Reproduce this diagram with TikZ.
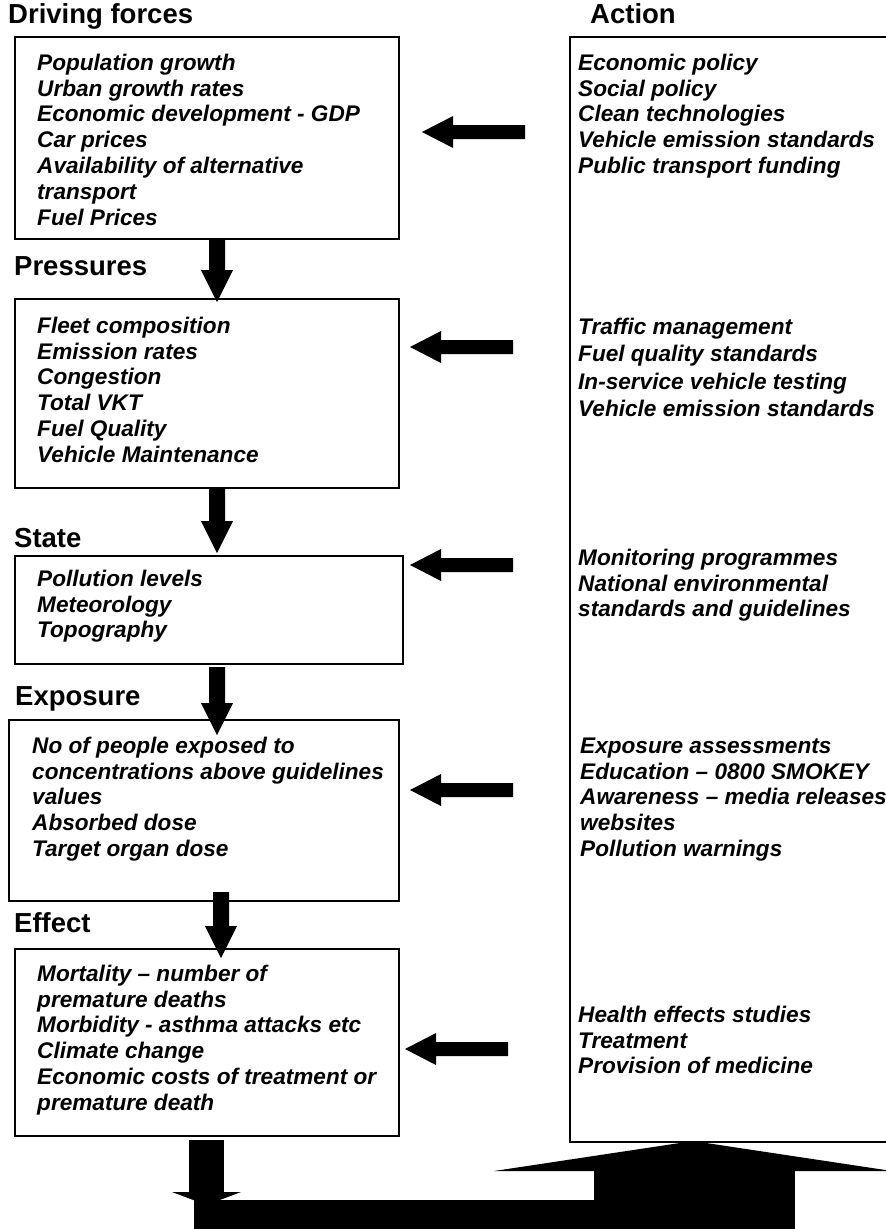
\documentclass[tikz,border=0pt]{standalone}
\usepackage{fontspec}
\setmainfont{Liberation Sans}
\usetikzlibrary{calc}
\newcommand{\titlefont}{\bfseries\fontsize{27.5}{30}\selectfont}
\newcommand{\itemfont}{\bfseries\itshape\fontsize{22.6}{25.8}\selectfont}
\newcommand{\itemfontwide}{\bfseries\itshape\fontsize{22.6}{27.5}\selectfont}
\newcommand{\vblock}[2]{\fill ($(#1)+(-8,0)$) -- ($(#2)+(-8,-32)$) -- ($(#2)+(-16,-32)$) -- (#2) -- ($(#2)+(16,-32)$) -- ($(#2)+(8,-32)$) -- ($(#1)+(8,0)$) -- cycle;}
\begin{document}
\begin{tikzpicture}[x=1pt,y=-1pt,
  box/.style={draw, line width=1.5pt, anchor=north west, inner sep=0pt},
  ttl/.style={anchor=base west, inner sep=0pt, font=\titlefont},
  items/.style={anchor=north west, inner sep=0pt, align=left, font=\itemfont},
  larrow/.pic={\fill (0,-7) -- (-72,-7) -- (-72,-16) -- (-103,0) -- (-72,16) -- (-72,7) -- (0,7) -- cycle;}
]
\useasboundingbox (0,0) rectangle (886,1229);
\clip (0,0) rectangle (886,1229);

% boxes
\node[box, minimum width=384pt, minimum height=202pt] (df) at (14,36) {};
\node[box, minimum width=384pt, minimum height=189pt] (pr) at (14,298) {};
\node[box, minimum width=388pt, minimum height=108pt] (st) at (14,555) {};
\node[box, minimum width=390pt, minimum height=181pt] (ex) at (8,719) {};
\node[box, minimum width=384pt, minimum height=187pt] (ef) at (14,948) {};
\node[box, minimum width=360pt, minimum height=1105pt] (act) at (569,36) {};

% titles
\node[ttl] (tdf) at (8,23) {Driving forces};
\node[ttl] (tact) at (590,23) {Action};
\node[ttl] (tpr) at (14,275) {Pressures};
\node[ttl] (tst) at (14,547) {State};
\node[ttl] (tex) at (15,705) {Exposure};
\node[ttl] (tef) at (14,932) {Effect};

% items
\node[items] (idf) at (37,52) {\strut Population growth\\Urban growth rates\\Economic development - GDP\\Car prices\\Availability of alternative\\transport\\Fuel Prices};
\node[items] (ia1) at (578,52) {\strut Economic policy\\Social policy\\Clean technologies\\Vehicle emission standards\\Public transport funding};
\node[items] (ipr) at (37,315) {\strut Fleet composition\\Emission rates\\Congestion\\Total VKT\\Fuel Quality\\Vehicle Maintenance};
\node[items, font=\itemfontwide] (ia2) at (578,314.75) {\strut Traffic management\\Fuel quality standards\\In-service vehicle testing\\Vehicle emission standards};
\node[items] (ist) at (37,568) {\strut Pollution levels\\Meteorology\\Topography};
\node[items] (ia3) at (578,547) {\strut Monitoring programmes\\National environmental\\standards and guidelines};
\node[items] (iex) at (32,735) {\strut No of people exposed to\\concentrations above guidelines\\values\\Absorbed dose\\Target organ dose};
\node[items] (ia4) at (580,735) {\strut Exposure assessments\\Education – 0800 SMOKEY\\Awareness – media releases,\\websites\\Pollution warnings};
\node[items] (ief) at (37,963) {\strut Mortality – number of\\premature deaths\\Morbidity - asthma attacks etc\\Climate change\\Economic costs of treatment or\\premature death};
\node[items] (ia5) at (578,1004) {\strut Health effects studies\\Treatment\\Provision of medicine};

% down arrows between boxes
\coordinate (a1t) at (217,238); \coordinate (a1h) at (217,302);
\coordinate (a2t) at (217,487); \coordinate (a2h) at (217,553);
\coordinate (a3t) at (217,667); \coordinate (a3h) at (217,735);
\coordinate (a4t) at (221,892); \coordinate (a4h) at (221,958);
\vblock{a1t}{a1h}
\vblock{a2t}{a2h}
\vblock{a3t}{a3h}
\vblock{a4t}{a4h}

% action arrows
\pic at (525,132) {larrow};
\pic at (513,347) {larrow};
\pic at (513,565) {larrow};
\pic at (513,790) {larrow};
\pic at (508,1049) {larrow};

% feedback arrow at the bottom
\fill (189,1140) rectangle (224,1195);
\fill (172,1192) -- (241,1192) -- (206.5,1205) -- cycle;
\fill (194,1200) rectangle (795,1240);
\fill (594,1171) rectangle (795,1240);
\fill (494,1171) -- (892,1171) -- (693,1141) -- cycle;
\end{tikzpicture}
\end{document}
